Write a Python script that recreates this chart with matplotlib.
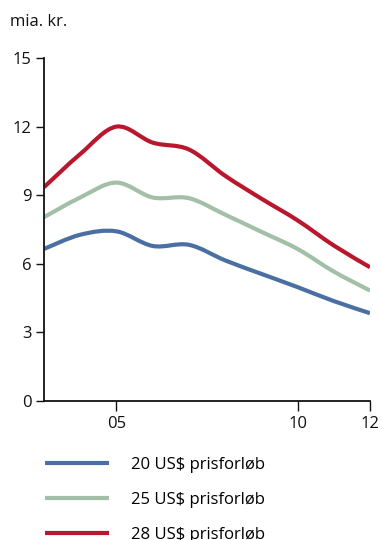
import numpy as np
import matplotlib
matplotlib.use("Agg")
import matplotlib.pyplot as plt
from matplotlib.path import Path
from matplotlib.patches import PathPatch
from matplotlib.lines import Line2D

plt.rcParams['font.family'] = ['Open Sans', 'DejaVu Sans']

years = [2003, 2004, 2005, 2006, 2007, 2008, 2009, 2010, 2011, 2012]
price_20 = [6.65, 7.27, 7.42, 6.78, 6.83, 6.15, 5.56, 4.98, 4.37, 3.84]
price_25 = [8.04, 8.90, 9.55, 8.90, 8.87, 8.15, 7.40, 6.65, 5.66, 4.83]
price_28 = [9.35, 10.80, 12.00, 11.30, 11.00, 9.85, 8.85, 7.90, 6.80, 5.85]

labels = ["20 US$ prisforløb", "25 US$ prisforløb", "28 US$ prisforløb"]
colors = ["#4A70A3", "#A3BFA8", "#B9172D"]

xticks = [2005, 2010, 2012]
xtick_labels = ["05", "10", "12"]
yticks = [0, 3, 6, 9, 12, 15]


def smooth_path(x, y):
    """Catmull-Rom spline through the points, expressed as cubic Beziers."""
    pts = np.column_stack([x, y]).astype(float)
    n = len(pts)
    verts = [pts[0]]
    codes = [Path.MOVETO]
    for i in range(n - 1):
        p0 = pts[i - 1] if i > 0 else pts[i]
        p1 = pts[i]
        p2 = pts[i + 1]
        p3 = pts[i + 2] if i + 2 < n else pts[i + 1]
        c1 = p1 + (p2 - p0) / 6.0
        c2 = p2 - (p3 - p1) / 6.0
        verts += [c1, c2, p2]
        codes += [Path.CURVE4] * 3
    return Path(verts, codes)


fig = plt.figure(figsize=(3.82, 5.40), dpi=100)
ax = fig.add_axes([44 / 382, 1 - 401 / 540, (370 - 44) / 382, (401 - 58) / 540])

for series, color in zip([price_20, price_25, price_28], colors):
    patch = PathPatch(smooth_path(years, series), fill=False, edgecolor=color,
                      lw=3.0, capstyle='butt', joinstyle='round')
    ax.add_patch(patch)

ax.set_xlim(2003, 2012)
ax.set_ylim(0, 15)
ax.set_xticks(xticks)
ax.set_xticklabels(xtick_labels)
ax.set_yticks(yticks)

for side in ("top", "right"):
    ax.spines[side].set_visible(False)
for side in ("left", "bottom"):
    ax.spines[side].set_linewidth(1.3)
    ax.spines[side].set_color("#111111")

ax.tick_params(axis='y', direction='out', length=6, width=1.0, pad=3,
               labelsize=12, colors="#111111")
ax.tick_params(axis='x', direction='out', length=7, width=1.0, pad=4,
               labelsize=12, colors="#111111")

fig.text(10 / 382, 1 - 22 / 540, "mia. kr.", fontsize=12, va='center', ha='left',
         color="#111111")

handles = [Line2D([], [], color=c, lw=3.0, solid_capstyle='butt') for c in colors]
fig.legend(handles, labels, loc='upper left',
           bbox_to_anchor=(45 / 382, 1 - 457 / 540), frameon=False,
           fontsize=12, handlelength=3.85, handletextpad=1.3,
           labelspacing=1.13, borderpad=0, borderaxespad=0)

fig.savefig("out.png", dpi=100)
